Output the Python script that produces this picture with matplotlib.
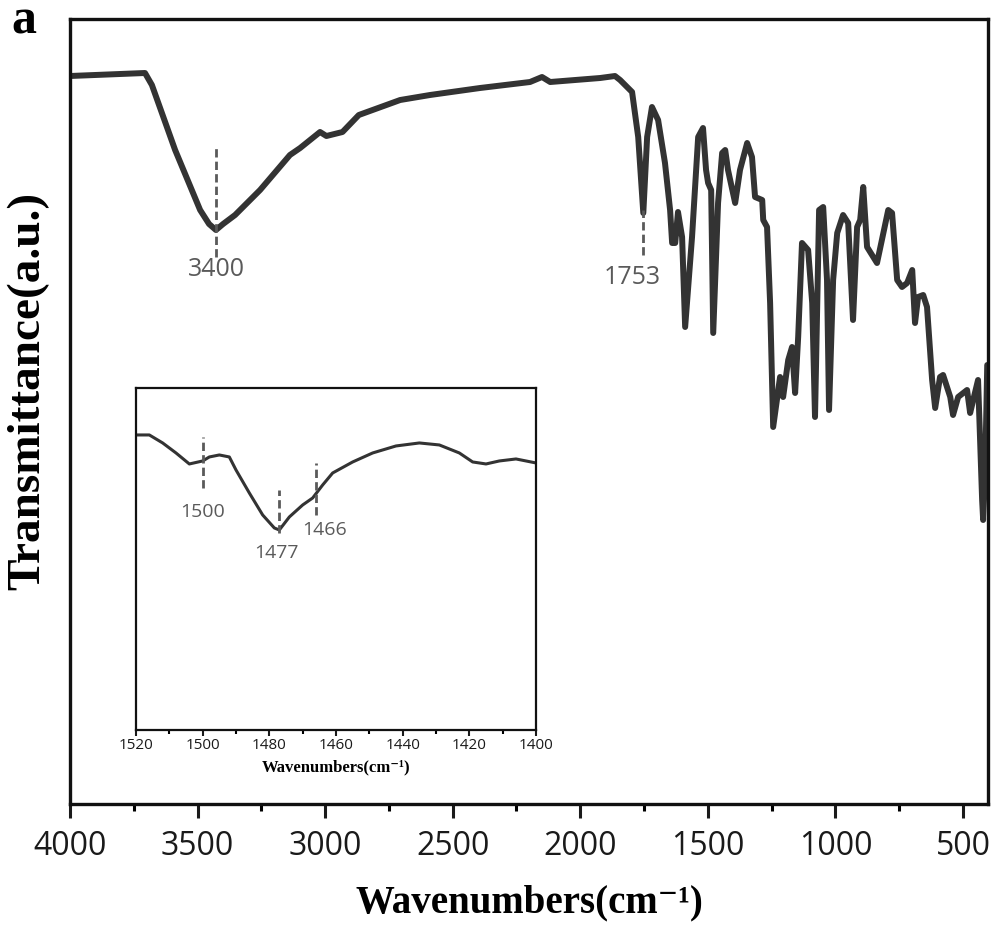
import matplotlib.pyplot as plt
from matplotlib.ticker import MultipleLocator

# FTIR spectrum (cm-1 vs transmittance in a.u.)
wavenumber = [4000, 3706, 3679, 3588, 3490, 3455, 3428, 3400, 3353, 3255,
              3138, 3098, 3020, 2995, 2932, 2868, 2706, 2589, 2393, 2197,
              2150, 2118, 1922, 1864, 1844, 1797, 1773, 1753, 1738, 1719,
              1695, 1668, 1648, 1640, 1628, 1617, 1601, 1589, 1562, 1538,
              1519, 1507, 1499, 1487, 1479, 1460, 1444, 1432, 1421, 1393,
              1374, 1346, 1327, 1315, 1287, 1283, 1268, 1256, 1244, 1217,
              1205, 1185, 1170, 1158, 1146, 1131, 1107, 1091, 1080, 1064,
              1048, 1033, 1025, 1009, 993, 970, 950, 931, 915, 903,
              891, 876, 837, 793, 778, 758, 739, 719, 699, 688,
              676, 656, 641, 621, 609, 590, 578, 550, 539, 519,
              484, 472, 460, 441, 433, 425, 421, 413, 405]
transmittance = [728, 731, 719, 654, 594, 580, 574, 580, 589, 614,
                 649, 656, 672, 668, 672, 689, 704, 709, 716, 722,
                 727, 722, 726, 728, 724, 712, 667, 591, 667, 697,
                 684, 641, 594, 561, 561, 592, 567, 477, 567, 667,
                 676, 634, 621, 614, 471, 601, 651, 654, 634, 601,
                 634, 661, 647, 607, 604, 584, 577, 501, 377, 427,
                 407, 444, 457, 411, 467, 561, 554, 501, 387, 594,
                 597, 524, 394, 524, 571, 589, 581, 484, 577, 584,
                 617, 557, 541, 594, 591, 524, 517, 521, 534, 481,
                 507, 509, 497, 424, 396, 427, 429, 407, 389, 407,
                 414, 391, 404, 424, 364, 304, 284, 334, 439]

# inset: 1520-1400 cm-1
inset_wavenumber = [1520, 1516, 1512, 1508, 1504, 1500, 1498, 1495, 1492, 1490,
                    1486, 1482, 1478.5, 1477, 1474, 1470, 1467, 1464, 1461, 1455,
                    1449, 1442, 1435, 1429, 1423, 1419, 1415, 1411, 1406, 1400]
inset_transmittance = [295, 295, 287, 277, 266, 269, 273, 275, 273, 260,
                       237, 215, 202, 200, 213, 225, 232, 245, 257, 268,
                       277, 284, 287, 285, 277, 268, 266, 269, 271, 267]

# annotated bands: where the dashed marker sits and what it says
peak_pos = [3428, 1753]
peak_labels = ['3400', '1753']
peak_span = [(547, 657), (549, 594)]
peak_text_x = [3428, 1797]
peak_text_y = [534, 526]

inset_peak_pos = [1500, 1477, 1466]
inset_peak_labels = ['1500', '1477', '1466']
inset_peak_span = [(242, 293), (197, 240), (215, 267)]
inset_text_x = [1500, 1478, 1463.5]
inset_text_y = [218, 177, 200]

line_color = '#333333'
dash_color = '#5a5a5a'
serif = ['Liberation Serif', 'DejaVu Serif']
sans = 'Open Sans'

fig = plt.figure(figsize=(10, 9.27), dpi=100)
ax = fig.add_axes([0.07, 0.1327, 0.918, 0.8468])

ax.plot(wavenumber, transmittance, color=line_color, linewidth=4.3,
        solid_joinstyle='round', solid_capstyle='round')
for pos, (y0, y1), lab, tx, ty in zip(peak_pos, peak_span, peak_labels, peak_text_x, peak_text_y):
    ax.plot([pos, pos], [y0, y1], color=dash_color, linestyle=(0, (3, 1.5)), linewidth=2)
    ax.text(tx, ty, lab, ha='center', va='center', fontsize=18, color=dash_color,
            family=sans)

ax.set_xlim(4000, 402)
ax.set_ylim(0, 785)
ax.xaxis.set_major_locator(MultipleLocator(500))
ax.xaxis.set_minor_locator(MultipleLocator(250))
ax.set_yticks([])
ax.tick_params(axis='x', which='major', direction='out', length=10, width=2.2,
               labelsize=23, pad=9, colors='#1a1a1a')
ax.tick_params(axis='x', which='minor', direction='out', length=5, width=2.2)
for lab in ax.get_xticklabels():
    lab.set_family(sans)
for sp in ax.spines.values():
    sp.set_linewidth(2.4)
    sp.set_color('#111111')

ax.set_xlabel('Wavenumbers(cm\u207b\u00b9)', fontsize=28, fontweight='bold',
              family=serif, labelpad=15)
ax.set_ylabel('Transmittance(a.u.)', fontsize=34, fontweight='bold', family=serif)
ax.yaxis.set_label_coords(-0.022, 0.526)
fig.text(0.011, 1 - 33 / 927, 'a', fontsize=36, fontweight='bold', family=serif,
         ha='left', va='baseline')

# inset
axin = fig.add_axes([0.136, 0.2125, 0.4, 0.369])
axin.plot(inset_wavenumber, inset_transmittance, color=line_color, linewidth=2.2)
for pos, (y0, y1), lab, tx, ty in zip(inset_peak_pos, inset_peak_span, inset_peak_labels,
                                      inset_text_x, inset_text_y):
    axin.plot([pos, pos], [y0, y1], color=dash_color, linestyle=(0, (3, 1.5)), linewidth=2)
    axin.text(tx, ty, lab, ha='center', va='center', fontsize=14, color=dash_color,
              family=sans)

axin.set_xlim(1520, 1400)
axin.set_ylim(0, 342)
axin.xaxis.set_major_locator(MultipleLocator(20))
axin.xaxis.set_minor_locator(MultipleLocator(10))
axin.set_yticks([])
axin.tick_params(axis='x', which='major', direction='out', length=4, width=1.5,
                 labelsize=11, pad=2, colors='#1a1a1a')
axin.tick_params(axis='x', which='minor', direction='out', length=3, width=1.5)
for lab in axin.get_xticklabels():
    lab.set_family(sans)
for sp in axin.spines.values():
    sp.set_linewidth(1.6)
    sp.set_color('#111111')
axin.set_xlabel('Wavenumbers(cm\u207b\u00b9)', fontsize=12, fontweight='bold',
                family=serif, labelpad=4)

plt.savefig('out.png', dpi=100)
